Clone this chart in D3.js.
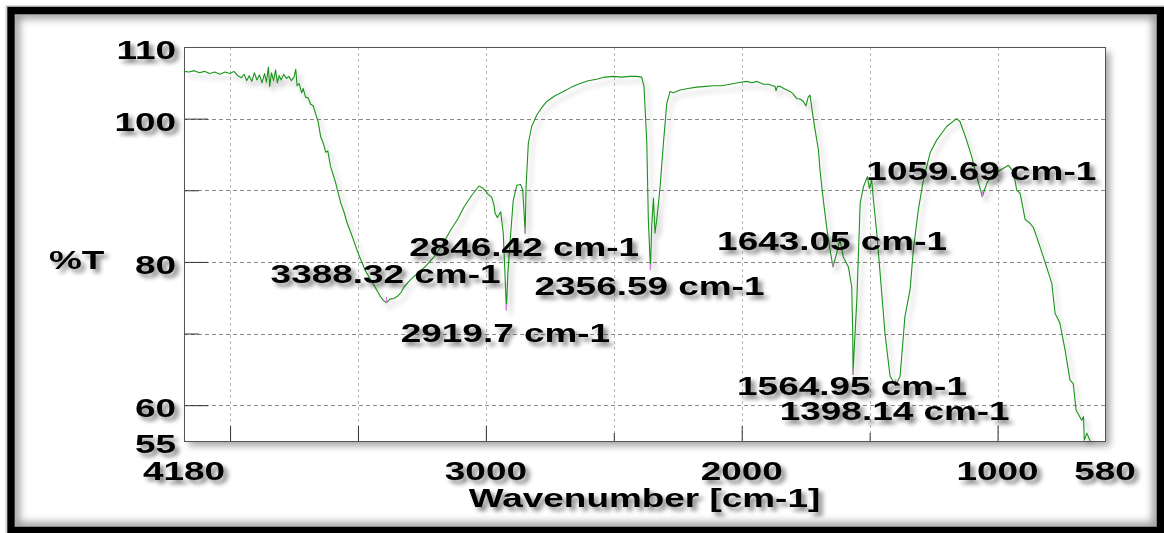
<!DOCTYPE html>
<html>
<head>
<meta charset="utf-8">
<script src="https://cdn.jsdelivr.net/npm/d3@7"></script>
<style>
  html, body { margin: 0; padding: 0; background: #fff; }
  svg { display: block; }
  text { font-family: "Liberation Sans", Arial, sans-serif; font-weight: bold; fill: #000; }
</style>
</head>
<body>
<svg id="chart" width="1164" height="533"></svg>
<script>
// FT-IR transmittance spectrum (%T against wavenumber)
const wavenumbers = [
  4180, 4160, 4140, 4120, 4100, 4080, 4060, 4040, 4020, 4000,
  3985, 3970, 3955, 3945, 3935, 3925, 3915, 3905, 3895, 3885,
  3875, 3865, 3858, 3850, 3845, 3838, 3830, 3822, 3815, 3808,
  3800, 3790, 3780, 3770, 3760, 3750, 3743, 3738, 3730, 3720,
  3714, 3705, 3695, 3685, 3675, 3665, 3655, 3646, 3635, 3626,
  3618, 3607, 3597, 3587, 3577, 3567, 3555, 3542, 3528, 3515,
  3500, 3489, 3470, 3450, 3430, 3411, 3400, 3388.32, 3375, 3360,
  3346, 3332, 3320, 3295, 3268, 3235, 3203, 3170, 3137, 3110,
  3085, 3055, 3027, 3015, 3001, 2990, 2977, 2968, 2964, 2955,
  2947, 2942, 2932, 2925, 2919.7, 2914, 2908, 2903, 2893, 2879,
  2864, 2856, 2851, 2846.42, 2843, 2834, 2821, 2801, 2780, 2762,
  2730, 2697, 2665, 2632, 2600, 2567, 2535, 2502, 2470, 2437,
  2410, 2391, 2382, 2371, 2365, 2356.59, 2352, 2345, 2339, 2332,
  2319, 2306, 2293, 2280, 2267, 2241, 2210, 2176, 2140, 2111,
  2080, 2046, 2015, 1981, 1960, 1940, 1915, 1895, 1880, 1870,
  1866, 1860, 1850, 1830, 1811, 1800, 1785, 1770, 1759, 1749,
  1740, 1733, 1727, 1720, 1713, 1700, 1694, 1681, 1668, 1655,
  1643.05, 1629, 1616, 1603, 1583, 1570, 1566, 1564.95, 1560, 1550,
  1537, 1524, 1509, 1501, 1492, 1485, 1472, 1459, 1440, 1420,
  1398.14, 1381, 1362, 1342, 1329, 1310, 1290, 1264, 1238, 1199,
  1160, 1147, 1121, 1101, 1081, 1059.69, 1042, 1035, 1016, 990,
  958, 938, 925, 912, 892, 873, 860, 847, 821, 788,
  775, 762, 756, 736, 717, 704, 693, 671, 664, 661,
  651, 638
];
const transmittance = [
  106.6, 106.5, 106.7, 106.4, 106.6, 106.3, 106.5, 106.2, 106.5, 106.3,
  106.6, 106.0, 105.7, 106.2, 105.3, 106.0, 105.2, 106.4, 105.4, 106.1,
  105.0, 106.3, 105.1, 107.2, 104.5, 106.4, 105.3, 106.8, 105.0, 106.0,
  105.4, 106.2, 105.6, 105.9, 105.3, 105.8, 106.9, 104.6, 104.9, 103.6,
  104.2, 103.0, 102.9, 102.0, 101.8, 100.6, 99.5, 97.5, 96.5, 95.3,
  95.5, 93.3, 92.2, 91.0, 89.6, 88.2, 87.0, 85.4, 84.1, 82.8,
  81.3, 80.3, 78.7, 77.5, 76.3, 75.1, 74.6, 74.3, 74.8, 74.9,
  75.2, 75.7, 76.5, 77.5, 78.4, 79.4, 80.7, 82.4, 84.5, 86.0,
  87.7, 89.3, 90.6, 90.4, 89.9, 89.4, 89.0, 87.9, 86.8, 86.2,
  86.7, 87.0, 84.0, 78.0, 73.3, 78.5, 81.5, 84.0, 88.6, 90.7,
  90.8, 90.0, 87.0, 84.0, 90.5, 96.6, 98.9, 100.5, 101.6, 102.4,
  103.2, 103.8, 104.4, 104.9, 105.3, 105.5, 105.8, 105.9, 105.8, 105.9,
  105.9, 105.8, 104.5, 96.6, 85.9, 78.9, 84.9, 88.9, 84.0, 85.9,
  90.5, 96.6, 102.1, 103.8, 103.6, 104.0, 104.2, 104.4, 104.5, 104.6,
  104.6, 104.8, 105.0, 105.2, 105.0, 105.2, 104.8, 104.8, 104.6, 104.5,
  103.9, 104.5, 104.5, 104.1, 103.8, 103.5, 102.8, 102.7, 102.4, 101.8,
  103.0, 103.3, 101.7, 100.0, 98.4, 95.6, 92.8, 88.6, 84.9, 81.7,
  79.3, 81.2, 83.1, 80.7, 79.3, 76.5, 70.0, 64.3, 68.0, 74.7,
  88.2, 90.5, 91.9, 90.3, 91.4, 88.6, 84.0, 78.4, 70.0, 64.0,
  62.8, 64.0, 72.4, 76.1, 81.7, 87.2, 91.4, 95.2, 97.0, 98.9,
  100.0, 99.6, 97.0, 94.7, 91.9, 89.1, 91.0, 91.4, 92.1, 92.8,
  93.5, 92.6, 90.0, 89.6, 85.9, 85.4, 84.8, 83.5, 80.7, 77.0,
  72.8, 71.9, 71.4, 67.7, 63.5, 63.0, 59.3, 57.9, 58.4, 55.1,
  56.1, 55.0
];

// Picked peaks and their annotations
const peakWavenumbers = [3388.32, 2919.7, 2846.42, 2356.59, 1643.05, 1564.95, 1398.14, 1059.69];
const peakLabels = ["3388.32 cm-1", "2919.7 cm-1", "2846.42 cm-1", "2356.59 cm-1",
                    "1643.05 cm-1", "1564.95 cm-1", "1398.14 cm-1", "1059.69 cm-1"];

// Axis ticks and titles
const xTickLabels = [4180, 3000, 2000, 1000, 580];
const yTickLabels = [110, 100, 80, 60, 55];
const xGridValues = [4000, 3500, 3000, 2500, 2000, 1500, 1000];
const yGridValues = [100, 90, 80, 70, 60];
const xTitle = "Wavenumber [cm-1]";
const yTitle = "%T";

// ---- layout ----
const W = 1164, H = 533;
const plot = { left: 184, right: 1105, top: 47, bottom: 441 };
const SX = 1.42;          // horizontal stretch of all lettering
const FONT = 26;
// baseline of each peak annotation (pixels), same order as peakWavenumbers
const peakLabelBaseline = [283, 342, 256, 295, 250, 395, 420, 180];

const svg = d3.select("#chart");
const defs = svg.append("defs");

function shadowFilter(id, dx, dy, sd, op) {
  const f = defs.append("filter").attr("id", id)
    .attr("x", "-10%").attr("y", "-20%").attr("width", "130%").attr("height", "160%");
  f.append("feGaussianBlur").attr("in", "SourceAlpha").attr("stdDeviation", sd).attr("result", "b");
  f.append("feOffset").attr("in", "b").attr("dx", dx).attr("dy", dy).attr("result", "o");
  f.append("feFlood").attr("flood-color", "#000").attr("flood-opacity", op).attr("result", "c");
  f.append("feComposite").attr("in", "c").attr("in2", "o").attr("operator", "in").attr("result", "s");
  const m = f.append("feMerge");
  m.append("feMergeNode").attr("in", "s");
  m.append("feMergeNode").attr("in", "SourceGraphic");
}
shadowFilter("textShadow", 3, 4, 2, 0.5);
shadowFilter("lineShadow", 4, 5, 2.5, 0.28);
shadowFilter("boxShadow", 5, 5, 3.5, 0.35);

defs.append("filter").attr("id", "soft")
  .append("feGaussianBlur").attr("stdDeviation", 4);
defs.append("clipPath").attr("id", "innerClip")
  .append("rect").attr("x", 15).attr("y", 14).attr("width", 1142).attr("height", 513);

// ---- outer frame ----
svg.append("rect").attr("width", W).attr("height", H).attr("fill", "#fff");
svg.append("rect")
  .attr("x", 6).attr("y", 6).attr("width", 1170).attr("height", 540)
  .attr("fill", "none").attr("stroke", "#bbb").attr("stroke-width", 1);
svg.append("g").attr("clip-path", "url(#innerClip)")
  .append("rect")
  .attr("x", 15).attr("y", 14).attr("width", 1142).attr("height", 513)
  .attr("fill", "none").attr("stroke", "#000").attr("stroke-opacity", 0.45)
  .attr("stroke-width", 8).attr("filter", "url(#soft)");
svg.append("rect")
  .attr("x", 11).attr("y", 10.5).attr("width", 1149.5).attr("height", 520)
  .attr("fill", "none").attr("stroke", "#000").attr("stroke-width", 7.5);

// ---- scales ----
const x = d3.scaleLinear().domain([4180, 580]).range([plot.left, plot.right]);
const y = d3.scaleLinear().domain([55, 110]).range([plot.bottom, plot.top]);

// plot box with its shadow
svg.append("rect")
  .attr("x", plot.left).attr("y", plot.top)
  .attr("width", plot.right - plot.left).attr("height", plot.bottom - plot.top)
  .attr("fill", "#fff").attr("filter", "url(#boxShadow)");

// ---- grid ----
const grid = svg.append("g");
grid.selectAll("line.v").data(xGridValues).join("line").attr("class", "v")
  .attr("x1", d => Math.round(x(d)) + 0.5).attr("x2", d => Math.round(x(d)) + 0.5)
  .attr("y1", plot.top).attr("y2", plot.bottom)
  .attr("stroke", "#b8b8b8").attr("stroke-width", 1).attr("stroke-dasharray", "3,3");
grid.selectAll("line.h").data(yGridValues).join("line").attr("class", "h")
  .attr("x1", plot.left).attr("x2", plot.right)
  .attr("y1", d => Math.round(y(d)) + 0.5).attr("y2", d => Math.round(y(d)) + 0.5)
  .attr("stroke", "#8a8a8a").attr("stroke-width", 1).attr("stroke-dasharray", "4,3");

// ---- ticks (inside the box) ----
function tickGroup(axis, tx, ty) {
  const g = svg.append("g").attr("transform", `translate(${tx},${ty})`).call(axis);
  g.select(".domain").remove();
  g.selectAll("text").remove();
  g.selectAll("line").attr("stroke", "#333");
  return g;
}
tickGroup(d3.axisRight(y).tickValues([100, 80, 60]).tickSize(24), plot.left, 0);
tickGroup(d3.axisRight(y).tickValues([90, 70]).tickSize(15), plot.left, 0);
tickGroup(d3.axisTop(x).tickValues([4000, 3500, 3000, 2000, 1000]).tickSize(15), 0, plot.bottom);
tickGroup(d3.axisTop(x).tickValues([2500, 1500]).tickSize(8), 0, plot.bottom);

// box outline
svg.append("rect")
  .attr("x", plot.left + 0.5).attr("y", plot.top + 0.5)
  .attr("width", plot.right - plot.left).attr("height", plot.bottom - plot.top)
  .attr("fill", "none").attr("stroke", "#555").attr("stroke-width", 1);

// ---- spectrum ----
const spectrum = d3.zip(wavenumbers, transmittance);
const line = d3.line().x(d => x(d[0])).y(d => y(d[1]));
svg.append("path")
  .datum(spectrum)
  .attr("d", line)
  .attr("fill", "none")
  .attr("stroke", "#1c931c")
  .attr("stroke-width", 1.1)
  .attr("stroke-linejoin", "round")
  .attr("filter", "url(#lineShadow)");

// peak tips
svg.append("g").selectAll("line").data(peakWavenumbers).join("line")
  .attr("x1", d => x(d)).attr("x2", d => x(d))
  .attr("y1", d => y(transmittance[wavenumbers.indexOf(d)]) - 6)
  .attr("y2", d => y(transmittance[wavenumbers.indexOf(d)]))
  .attr("stroke", "#e27be2").attr("stroke-width", 1.2);

// ---- lettering ----
function label(str, px, py, anchor) {
  svg.append("g")
    .attr("transform", `translate(${px},${py}) scale(${SX},1)`)
    .attr("filter", "url(#textShadow)")
    .append("text")
    .attr("text-anchor", anchor)
    .attr("font-size", FONT)
    .text(str);
}

yTickLabels.forEach(v => label(String(v), 176, Math.min(y(v) + 12, y(v) + 12), "end"));
xTickLabels.forEach(v => label(String(v), x(v), 480, "middle"));
label(yTitle, 49, 269, "start");
label(xTitle, (plot.left + plot.right) / 2, 507, "middle");

peakWavenumbers.forEach((w, i) => label(peakLabels[i], x(w) - 1, peakLabelBaseline[i], "middle"));
</script>
</body>
</html>
